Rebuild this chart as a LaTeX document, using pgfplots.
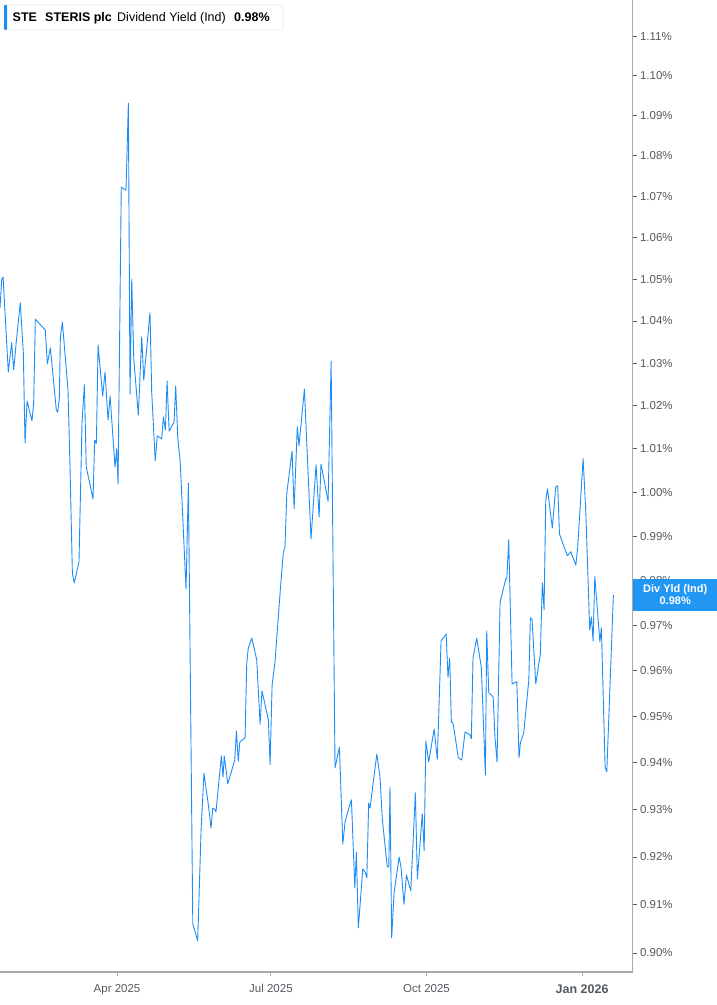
\documentclass[border=0pt]{standalone}
\usepackage{pgfplots}
\pgfplotsset{compat=1.18}
\usepackage{fontspec}
\setmainfont{Liberation Sans}

\definecolor{lineblue}{HTML}{1E8CF5}
\definecolor{boxblue}{HTML}{2196F3}
\definecolor{ticktext}{HTML}{555A60}
\definecolor{axisgray}{HTML}{A8A8A8}

% days counted from 1 Apr 2025; yield in percent
\pgfplotstableread{
day yield
-69.2 1.0431
-68.2 1.0498
-67.4 1.0505
-66.4 1.0433
-64.3 1.0279
-62.3 1.0348
-61.1 1.0284
-59.3 1.0362
-57.2 1.0443
-55.4 1.0324
-54.4 1.0113
-53.2 1.0211
-50.3 1.0165
-49.3 1.0206
-48.3 1.0404
-42.4 1.0378
-41.2 1.0298
-39.4 1.0336
-35.9 1.0190
-35.1 1.0185
-34.1 1.0218
-33.5 1.0362
-32.3 1.0397
-30.6 1.0314
-29.0 1.0237
-27.8 1.0058
-26.4 0.9817
-25.3 0.9795
-22.5 0.9842
-20.7 1.0160
-19.3 1.0249
-18.2 1.0058
-14.2 0.9985
-13.2 1.0120
-12.2 1.0113
-11.2 1.0343
-8.5 1.0223
-7.1 1.0279
-5.3 1.0167
-4.1 1.0223
-1.2 1.0058
-0.2 1.0100
0.6 1.0019
2.5 1.0723
4.3 1.0718
5.3 1.0716
6.7 1.0931
7.7 1.0227
8.7 1.0500
9.9 1.0310
12.6 1.0178
14.6 1.0362
15.8 1.0260
19.5 1.0419
20.5 1.0232
22.6 1.0072
23.8 1.0130
26.4 1.0123
27.4 1.0174
28.6 1.0144
29.6 1.0258
30.8 1.0141
33.7 1.0162
34.7 1.0246
35.9 1.0127
37.4 1.0067
40.8 0.9781
42.2 1.0021
44.8 0.9060
47.7 0.9025
49.7 0.9257
51.4 0.9378
53.8 0.9316
55.6 0.9261
56.6 0.9303
57.8 0.9301
58.5 0.9295
61.7 0.9415
62.7 0.9370
63.4 0.9415
65.5 0.9355
69.6 0.9406
70.6 0.9469
71.7 0.9404
72.6 0.9445
75.7 0.9454
76.7 0.9617
77.6 0.9650
79.7 0.9672
82.6 0.9624
84.6 0.9484
85.7 0.9556
89.5 0.9493
90.5 0.9396
91.7 0.9569
93.4 0.9619
96.4 0.9772
98.3 0.9862
99.3 0.9876
100.4 0.9998
103.5 1.0095
104.7 0.9962
106.6 1.0151
107.6 1.0107
110.8 1.0239
114.7 0.9894
117.7 1.0063
119.5 0.9944
120.6 1.0065
124.8 0.9980
126.6 1.0305
128.9 0.9389
131.5 0.9434
133.5 0.9227
134.8 0.9272
136.2 0.9293
138.6 0.9321
140.6 0.9135
141.5 0.9210
142.7 0.9052
145.3 0.9175
146.7 0.9168
147.7 0.9156
148.8 0.9314
149.6 0.9303
153.6 0.9419
155.5 0.9370
156.9 0.9278
159.8 0.9179
160.7 0.9179
161.4 0.9348
162.4 0.9031
163.8 0.9124
166.8 0.9200
167.9 0.9179
169.7 0.9101
171.1 0.9162
173.7 0.9129
176.4 0.9336
177.6 0.9154
180.5 0.9291
181.6 0.9213
182.6 0.9447
184.3 0.9402
187.5 0.9473
189.4 0.9408
191.6 0.9666
194.6 0.9681
195.7 0.9586
196.7 0.9628
197.7 0.9488
198.7 0.9486
201.8 0.9411
203.8 0.9406
205.8 0.9467
208.8 0.9460
209.5 0.9452
210.5 0.9628
212.7 0.9672
215.4 0.9608
217.8 0.9374
218.6 0.9688
219.8 0.9552
222.4 0.9543
223.5 0.9454
224.7 0.9402
226.5 0.9752
229.9 0.9804
230.5 0.9804
231.6 0.9892
233.6 0.9571
236.4 0.9576
237.7 0.9411
238.5 0.9443
240.5 0.9465
243.5 0.9580
244.4 0.9717
245.4 0.9714
247.6 0.9571
250.3 0.9637
251.5 0.9795
252.5 0.9735
253.5 0.9980
254.5 1.0008
257.4 0.9919
259.4 1.0012
260.6 1.0015
261.6 0.9905
266.3 0.9856
268.3 0.9865
271.3 0.9835
272.4 0.9876
275.6 1.0077
277.2 0.9955
279.5 0.9690
280.5 0.9719
281.5 0.9666
282.5 0.9810
285.5 0.9664
286.4 0.9695
288.6 0.9391
289.6 0.9381
293.5 0.9768
}\yielddata

\begin{document}
\begin{tikzpicture}
\useasboundingbox (0,0) rectangle (717pt,1005pt);
\begin{axis}[
    at={(0pt,33pt)}, anchor=south west,
    scale only axis,
    width=632.5pt, height=972pt,
    clip mode=individual,
    ymode=log,
    xmin=-69.2, xmax=304.8,
    ymin=0.8961, ymax=1.1192,
    axis x line*=bottom,
    axis y line*=right,
    axis line style={draw=axisgray, line width=1.2pt},
    xtick={0,91,183,275},
    xticklabels={Apr 2025, Jul 2025, Oct 2025,
      {\fontsize{12.5}{13}\selectfont\bfseries Jan 2026}},
    ytick={0.90,0.91,0.92,0.93,0.94,0.95,0.96,0.97,0.98,0.99,1.00,
           1.01,1.02,1.03,1.04,1.05,1.06,1.07,1.08,1.09,1.10,1.11},
    yticklabels={0.90\%,0.91\%,0.92\%,0.93\%,0.94\%,0.95\%,0.96\%,0.97\%,
      0.98\%,0.99\%,1.00\%,1.01\%,1.02\%,1.03\%,1.04\%,1.05\%,1.06\%,
      1.07\%,1.08\%,1.09\%,1.10\%,1.11\%},
    minor y tick num=0,
    tick align=outside,
    major tick length=4pt,
    x tick style={draw=axisgray, line width=1pt},
    y tick style={draw=ticktext, line width=0.8pt},
    ticklabel style={font=\fontsize{11.5}{13}\selectfont, text=ticktext},
    xticklabel style={yshift=-5pt},
    yticklabel style={xshift=0pt},
]
\addplot[color=lineblue, line width=0.9pt, line join=round, mark=none]
  table[x=day, y=yield] {\yielddata};

\node[fill=boxblue, text=white, anchor=west, align=center,
      minimum width=85pt, minimum height=32pt, inner xsep=0pt, inner ysep=2pt,
      font=\fontsize{11}{12}\selectfont\bfseries]
  at (axis cs:304.8,0.9768) {Div Yld (Ind)\\0.98\%};
\end{axis}

% header box
\draw[draw=gray!20, fill=white, rounded corners=2.5pt, line width=0.6pt]
  (4pt,1000pt) rectangle (283pt,975pt);
\fill[lineblue, rounded corners=1pt] (4pt,1000pt) rectangle (7pt,975pt);
\node[anchor=base west, inner sep=0pt, font=\fontsize{12.5}{14}\selectfont\bfseries]
  at (12.5pt,983.5pt) {STE};
\node[anchor=base west, inner sep=0pt, font=\fontsize{12.5}{14}\selectfont\bfseries]
  at (45pt,983.5pt) {STERIS plc};
\node[anchor=base west, inner sep=0pt, font=\fontsize{12.5}{14}\selectfont]
  at (117pt,983.5pt) {Dividend Yield (Ind)};
\node[anchor=base west, inner sep=0pt, font=\fontsize{12.5}{14}\selectfont\bfseries]
  at (234pt,983.5pt) {0.98\%};
\end{tikzpicture}
\end{document}
